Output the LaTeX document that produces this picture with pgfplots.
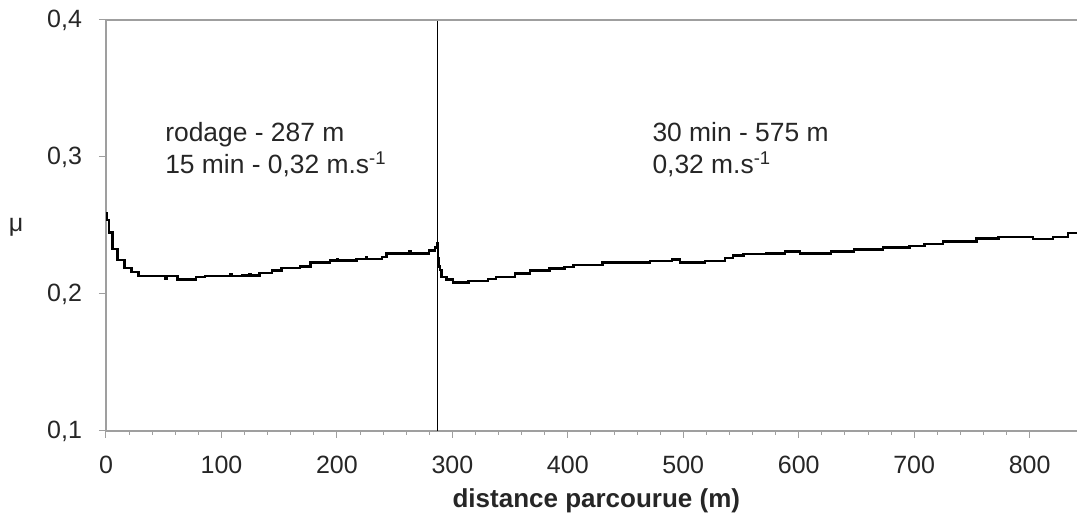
\documentclass[border=0pt]{standalone}
\usepackage{fontspec}
\setmainfont{Liberation Sans}
\usepackage{pgfplots}
\pgfplotsset{compat=1.18}
\begin{document}
\begin{tikzpicture}
\begin{axis}[
  scale only axis,
  width=485.5pt, height=205.5pt,
  xmin=0, xmax=841, ymin=0.1, ymax=0.4,
  axis x line*=bottom, axis y line*=left,
  axis line style={gray!75, line width=0.8pt},
  xtick={0,100,...,800}, minor x tick num=4,
  ytick={0.1,0.2,0.3,0.4},
  tick align=outside,
  major tick length=3.5pt, minor tick length=2pt,
  every tick/.style={gray!75, line width=0.5pt},
  /pgf/number format/assume math mode=true,
  /pgf/number format/use comma,
  yticklabel style={/pgf/number format/fixed, /pgf/number format/fixed zerofill, /pgf/number format/precision=1, font=\fontsize{12.5}{14}\selectfont, xshift=-5pt, text=black!85},
  xticklabel style={font=\fontsize{12.5}{14}\selectfont, yshift=-8pt, text=black!85, inner sep=1pt},
  clip mode=individual,
]
\addplot[black, line width=1.2pt, const plot] coordinates {
(0,0.259) (0.8,0.254) (2.5,0.245) (5.5,0.233) (10,0.225) (16,0.219) (22,0.216) (28,0.213)
(50,0.213) (51,0.211) (53,0.213) (62,0.2105) (78,0.2125) (85,0.2125) (86,0.213) (101,0.213)
(108,0.2142) (109,0.213) (118,0.2135) (124,0.2145) (125,0.2135) (133,0.2155) (144,0.217)
(152,0.219) (168,0.220) (177,0.223) (194,0.2243) (200,0.2255) (201,0.2243) (217,0.2255)
(225,0.2267) (226,0.2255) (239,0.2272) (243,0.2297) (262,0.2297) (263,0.231) (264,0.2297)
(280,0.2316) (285,0.2340) (286.5,0.2374) (287.5,0.226) (288,0.220) (289.2,0.2175)
(290.6,0.2126) (295,0.2107) (300.7,0.2085) (314,0.2097) (331,0.2109) (338,0.2126)
(354,0.2151) (367,0.2170) (384,0.2185) (397,0.2195) (405,0.2212) (430,0.2229)
(450,0.2229) (471,0.224) (490,0.2253) (497,0.2229) (519,0.224) (536,0.2261) (543,0.228)
(552,0.2292) (572,0.2297) (588,0.2309) (601,0.2297) (628,0.2309) (648,0.2326) (673,0.234)
(696,0.235) (709,0.2365) (725,0.2382) (754,0.2406) (773,0.2418) (791,0.2414) (803,0.2401)
(820,0.2418) (833,0.2447) (841,0.2447)
};
\addplot[black, line width=0.5pt] coordinates {(287,0.1) (287,0.4)};
\draw[gray!75, line width=0.8pt] (rel axis cs:0,1) -- (rel axis cs:1,1);
\node[anchor=base west, inner sep=0pt, font=\fontsize{13.2}{15}\selectfont, text=black!85] at (axis cs:51,0.3112) {rodage - 287 m};
\node[anchor=base west, inner sep=0pt, font=\fontsize{13.2}{15}\selectfont, text=black!85] at (axis cs:51,0.2881) {15 min - 0,32 m.s\textsuperscript{-1}};
\node[anchor=base west, inner sep=0pt, font=\fontsize{13.2}{15}\selectfont, text=black!85] at (axis cs:473,0.3112) {30 min - 575 m};
\node[anchor=base west, inner sep=0pt, font=\fontsize{13.2}{15}\selectfont, text=black!85] at (axis cs:473,0.2881) {0,32 m.s\textsuperscript{-1}};
\node[anchor=base, inner sep=0pt, font=\fontsize{12.5}{14}\selectfont, text=black!85, xshift=-45pt] at (axis cs:0,0.2453) {μ};
\node[anchor=base, inner sep=0pt, font=\bfseries\fontsize{13}{15}\selectfont, text=black!85, yshift=-38.5pt] at (rel axis cs:0.505,0) {distance parcourue (m)};
\end{axis}
\pgfresetboundingbox
\path (-53pt,-43pt) rectangle (485.5pt,215.5pt);
\end{tikzpicture}
\end{document}
